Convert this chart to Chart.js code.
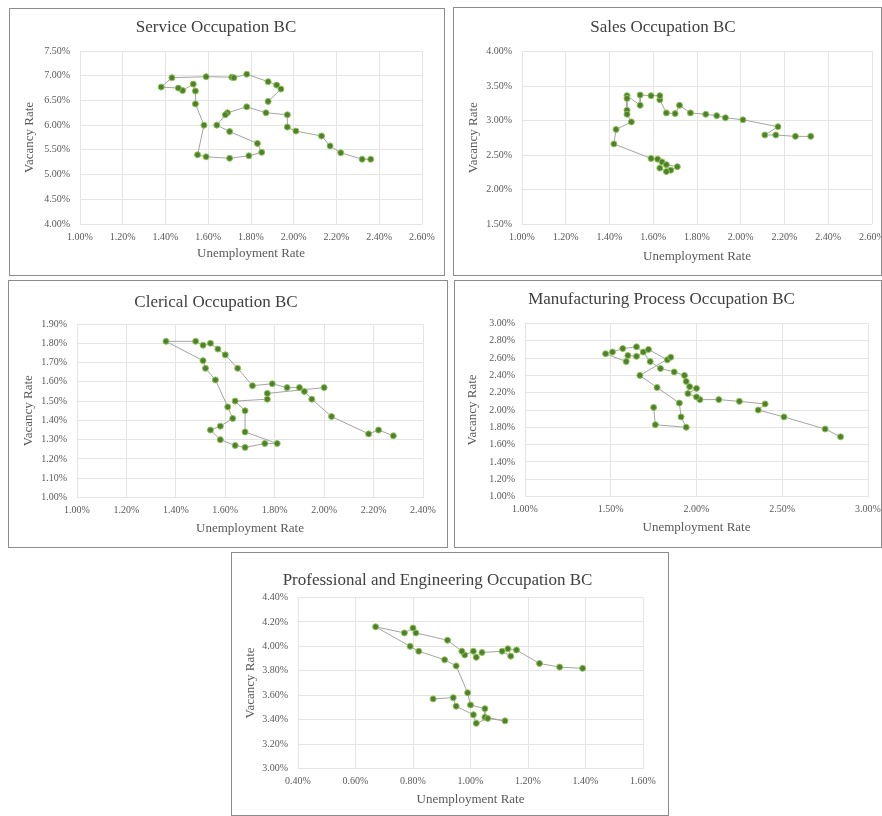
<!DOCTYPE html>
<html>
<head>
<meta charset="utf-8">
<script src="https://cdn.jsdelivr.net/npm/chart.js@4.4.1/dist/chart.umd.min.js"></script>
<style>
body { margin: 0; background: #fff; width: 882px; height: 816px; position: relative; overflow: hidden; }
.panel { position: absolute; box-sizing: border-box; border: 1px solid #8c8c8c; background: #fff; }
.panel canvas { display: block; }
</style>
</head>
<body>
<div class="panel" style="left:9px;top:8px;width:436px;height:268px"><canvas id="c1" width="434" height="266"></canvas></div>
<div class="panel" style="left:453px;top:7px;width:429px;height:269px"><canvas id="c2" width="427" height="267"></canvas></div>
<div class="panel" style="left:8px;top:280px;width:440px;height:268px"><canvas id="c3" width="438" height="266"></canvas></div>
<div class="panel" style="left:454px;top:280px;width:428px;height:268px"><canvas id="c4" width="426" height="266"></canvas></div>
<div class="panel" style="left:231px;top:552px;width:438px;height:264px"><canvas id="c5" width="436" height="262"></canvas></div>
<script>
// unemployment rate (%) and vacancy rate (%), in time order
const serviceU = [2.36, 2.32, 2.22, 2.17, 2.13, 2.01, 1.97, 1.97, 1.87, 1.78, 1.69, 1.68, 1.64, 1.70, 1.83, 1.85, 1.79, 1.70, 1.59, 1.55, 1.58, 1.54, 1.54, 1.53, 1.48, 1.46, 1.38, 1.43, 1.59, 1.71, 1.72, 1.78, 1.88, 1.92, 1.94, 1.88];
const serviceV = [5.31, 5.31, 5.44, 5.58, 5.78, 5.88, 5.96, 6.21, 6.25, 6.37, 6.25, 6.21, 6.00, 5.87, 5.63, 5.45, 5.38, 5.33, 5.36, 5.40, 6.00, 6.43, 6.69, 6.83, 6.70, 6.75, 6.77, 6.96, 6.98, 6.97, 6.96, 7.03, 6.88, 6.81, 6.73, 6.48];

const salesU = [2.32, 2.25, 2.16, 2.11, 2.17, 2.01, 1.93, 1.89, 1.84, 1.77, 1.72, 1.70, 1.66, 1.63, 1.63, 1.59, 1.54, 1.54, 1.48, 1.48, 1.48, 1.48, 1.50, 1.43, 1.42, 1.59, 1.62, 1.64, 1.66, 1.71, 1.68, 1.66, 1.63];
const salesV = [2.77, 2.77, 2.79, 2.79, 2.91, 3.01, 3.04, 3.07, 3.09, 3.11, 3.22, 3.10, 3.11, 3.30, 3.36, 3.36, 3.37, 3.22, 3.36, 3.32, 3.15, 3.09, 2.98, 2.87, 2.66, 2.45, 2.44, 2.40, 2.36, 2.33, 2.28, 2.26, 2.31];

const clericalU = [2.28, 2.22, 2.18, 2.03, 1.95, 1.92, 1.90, 1.85, 1.79, 1.71, 1.65, 1.60, 1.57, 1.54, 1.51, 1.48, 1.36, 1.51, 1.52, 1.56, 1.61, 1.63, 1.58, 1.54, 1.58, 1.64, 1.68, 1.76, 1.81, 1.68, 1.68, 1.64, 1.77, 1.77, 2.00];
const clericalV = [1.32, 1.35, 1.33, 1.42, 1.51, 1.55, 1.57, 1.57, 1.59, 1.58, 1.67, 1.74, 1.77, 1.80, 1.79, 1.81, 1.81, 1.71, 1.67, 1.61, 1.47, 1.41, 1.37, 1.35, 1.30, 1.27, 1.26, 1.28, 1.28, 1.34, 1.45, 1.50, 1.51, 1.54, 1.57];

const manufU = [2.84, 2.75, 2.51, 2.36, 2.40, 2.25, 2.13, 2.02, 2.00, 1.95, 2.00, 1.96, 1.94, 1.93, 1.87, 1.79, 1.73, 1.69, 1.65, 1.57, 1.51, 1.47, 1.59, 1.60, 1.65, 1.72, 1.83, 1.85, 1.67, 1.77, 1.90, 1.91, 1.94, 1.76, 1.75];
const manufV = [1.69, 1.78, 1.92, 2.00, 2.07, 2.10, 2.12, 2.12, 2.15, 2.19, 2.25, 2.27, 2.33, 2.40, 2.44, 2.48, 2.56, 2.67, 2.73, 2.71, 2.67, 2.65, 2.56, 2.63, 2.62, 2.70, 2.58, 2.61, 2.40, 2.26, 2.08, 1.92, 1.80, 1.83, 2.03];

const profU = [1.39, 1.31, 1.24, 1.16, 1.13, 1.14, 1.11, 1.04, 1.02, 1.01, 0.98, 0.97, 0.92, 0.81, 0.80, 0.77, 0.67, 0.79, 0.82, 0.91, 0.95, 0.99, 1.00, 1.05, 1.05, 1.12, 1.06, 1.02, 1.01, 0.95, 0.94, 0.87];
const profV = [3.82, 3.83, 3.86, 3.97, 3.98, 3.92, 3.96, 3.95, 3.91, 3.96, 3.93, 3.96, 4.05, 4.11, 4.15, 4.11, 4.16, 4.00, 3.96, 3.89, 3.84, 3.62, 3.52, 3.49, 3.42, 3.39, 3.41, 3.37, 3.44, 3.51, 3.58, 3.57];

const titles = ['Service Occupation BC', 'Sales Occupation BC', 'Clerical Occupation BC', 'Manufacturing Process Occupation BC', 'Professional and Engineering Occupation BC'];
const xLabel = 'Unemployment Rate';
const yLabel = 'Vacancy Rate';

// axis ranges [min, max, step]
const xRanges = [[1.0, 2.6, 0.2], [1.0, 2.6, 0.2], [1.0, 2.4, 0.2], [1.0, 3.0, 0.5], [0.4, 1.6, 0.2]];
const yRanges = [[4.0, 7.5, 0.5], [1.5, 4.0, 0.5], [1.0, 1.9, 0.1], [1.0, 3.0, 0.2], [3.0, 4.4, 0.2]];

const serif = "'Liberation Serif', 'Times New Roman', serif";
const textColor = '#595959';

// plot area margins inside each canvas
const boxes = [
    { left: 70, right: 22, top: 42, bottom: 51, titleY: 19, xTitle: 21, yTitle: 20 },
    { left: 68, right: 9, top: 43.5, bottom: 51, titleY: 20, xTitle: 18.5, yTitle: 20 },
    { left: 68, right: 24, top: 43, bottom: 49.5, titleY: 22, xTitle: 18, yTitle: 20 },
    { left: 70, right: 13, top: 42.5, bottom: 50.5, titleY: 19, xTitle: 19.5, yTitle: 18 },
    { left: 66, right: 25, top: 44.5, bottom: 46.5, titleY: 28, xTitle: 15.5, yTitle: 19 }
];

const series = [[serviceU, serviceV], [salesU, salesV], [clericalU, clericalV], [manufU, manufV], [profU, profV]];

function pct(v) {
    return v.toFixed(2) + '%';
}

function makeChart(idx) {
    const box = boxes[idx];
    const u = series[idx][0];
    const v = series[idx][1];
    const xr = xRanges[idx];
    const yr = yRanges[idx];

    new Chart(document.getElementById('c' + (idx + 1)), {
        type: 'scatter',
        data: {
            datasets: [{
                data: u.map((x, i) => ({ x: x, y: v[i] })),
                showLine: true,
                borderColor: '#a3a3a3',
                borderWidth: 1,
                pointRadius: 3,
                pointBackgroundColor: '#4f7f2f',
                pointBorderColor: '#8cc44f',
                pointBorderWidth: 1
            }]
        },
        options: {
            responsive: false,
            animation: false,
            layout: { padding: { left: 0, right: box.right, top: 0, bottom: 0 } },
            plugins: {
                legend: { display: false },
                tooltip: { enabled: false },
                title: {
                    display: true,
                    text: titles[idx],
                    color: '#404040',
                    font: { family: serif, size: 17, weight: 'normal' },
                    padding: { top: box.titleY - 10.2, bottom: box.top - box.titleY - 10.2 }
                }
            },
            scales: {
                x: {
                    type: 'linear',
                    min: xr[0],
                    max: xr[1],
                    ticks: {
                        stepSize: xr[2],
                        autoSkip: false,
                        maxRotation: 0,
                        padding: 7,
                        color: textColor,
                        font: { family: serif, size: 10 },
                        callback: pct
                    },
                    grid: { color: '#e4e4e4', drawTicks: false },
                    border: { display: false },
                    title: {
                        display: true,
                        text: xLabel,
                        color: textColor,
                        font: { family: serif, size: 13 },
                        // bottom axis title is placed from the bottom edge
                        padding: { top: 0, bottom: box.xTitle - 7.8 }
                    },
                    afterFit: s => { s.height = box.bottom; s.paddingLeft = 0; s.paddingRight = 0; }
                },
                y: {
                    type: 'linear',
                    min: yr[0],
                    max: yr[1],
                    ticks: {
                        stepSize: yr[2],
                        autoSkip: false,
                        padding: 10,
                        color: textColor,
                        font: { family: serif, size: 10 },
                        callback: pct
                    },
                    grid: { color: '#e4e4e4', drawTicks: false },
                    border: { display: false },
                    title: {
                        display: true,
                        text: yLabel,
                        color: textColor,
                        font: { family: serif, size: 13 },
                        padding: { top: box.yTitle - 7.8, bottom: 0 }
                    },
                    afterFit: s => { s.width = box.left; s.paddingTop = 0; s.paddingBottom = 0; }
                }
            }
        }
    });
}

for (let i = 0; i < 5; i++) {
    makeChart(i);
}
</script>
</body>
</html>
